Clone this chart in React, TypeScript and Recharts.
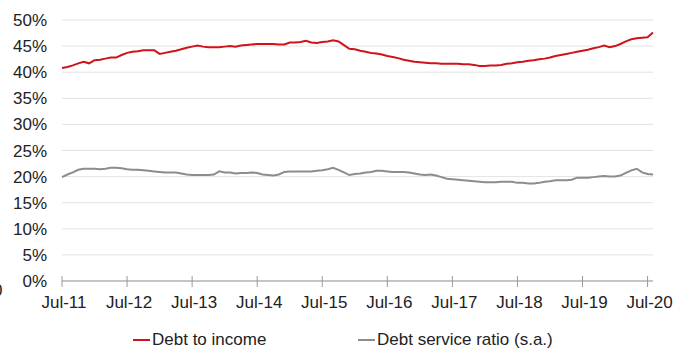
import React from 'react';
import { LineChart, Line, XAxis, YAxis, CartesianGrid } from 'recharts';

// monthly, Jul-11 .. Aug-20
const debtToIncome = [
  40.8, 41.0, 41.3, 41.7, 42.0, 41.7, 42.3, 42.4, 42.6, 42.8, 42.8, 43.3,
  43.7, 43.9, 44.0, 44.2, 44.2, 44.2, 43.5, 43.7, 43.9, 44.1, 44.4, 44.7,
  44.9, 45.1, 44.9, 44.8, 44.8, 44.8, 44.9, 45.0, 44.9, 45.1, 45.2, 45.3,
  45.4, 45.4, 45.4, 45.4, 45.3, 45.3, 45.7, 45.7, 45.8, 46.0, 45.7, 45.6,
  45.8, 45.9, 46.1, 45.9, 45.2, 44.5, 44.4, 44.1, 43.9, 43.7, 43.6, 43.4,
  43.1, 42.9, 42.7, 42.4, 42.2, 42.0, 41.9, 41.8, 41.7, 41.7, 41.6, 41.6,
  41.6, 41.6, 41.5, 41.5, 41.4, 41.2, 41.2, 41.3, 41.3, 41.4, 41.6, 41.7,
  41.9, 42.0, 42.2, 42.3, 42.5, 42.6, 42.8, 43.1, 43.3, 43.5, 43.7, 43.9,
  44.1, 44.3, 44.6, 44.8, 45.1, 44.8, 45.0, 45.4, 45.9, 46.3, 46.5, 46.6,
  46.7, 47.6,
];

const debtServiceRatio = [
  19.9, 20.4, 20.8, 21.3, 21.5, 21.5, 21.5, 21.4, 21.5, 21.7, 21.7, 21.6,
  21.4, 21.3, 21.3, 21.2, 21.1, 21.0, 20.9, 20.8, 20.8, 20.8, 20.6, 20.4,
  20.3, 20.3, 20.3, 20.3, 20.4, 21.0, 20.8, 20.8, 20.6, 20.7, 20.7, 20.8,
  20.7, 20.4, 20.3, 20.2, 20.4, 20.9, 21.0, 21.0, 21.0, 21.0, 21.0, 21.1,
  21.2, 21.4, 21.7, 21.3, 20.8, 20.3, 20.5, 20.6, 20.8, 20.9, 21.1, 21.1,
  21.0, 20.9, 20.9, 20.9, 20.8, 20.6, 20.4, 20.3, 20.4, 20.2, 19.9, 19.6,
  19.5, 19.4, 19.3, 19.2, 19.1, 19.0, 18.9, 18.9, 18.9, 19.0, 19.0, 19.0,
  18.8, 18.8, 18.7, 18.7, 18.8, 19.0, 19.1, 19.3, 19.3, 19.3, 19.4, 19.8,
  19.8, 19.8, 19.9, 20.0, 20.1, 20.0, 20.0, 20.2, 20.7, 21.2, 21.5, 20.8,
  20.5, 20.4,
];

const xTickLabels = ['Jul-11', 'Jul-12', 'Jul-13', 'Jul-14', 'Jul-15', 'Jul-16', 'Jul-17', 'Jul-18', 'Jul-19', 'Jul-20'];
const xTicks = xTickLabels.map((_, k) => k * 12);
const yTicks = [0, 5, 10, 15, 20, 25, 30, 35, 40, 45, 50];

const data = debtToIncome.map((v, i) => ({ i, dti: v, dsr: debtServiceRatio[i] }));

const FONT = '"Liberation Sans", Arial, sans-serif';
const RED = '#D0121B';
const GREY = '#8C8C8C';
const TEXT = '#222';

const series = [
  { key: 'dti', name: 'Debt to income', color: RED, left: 133 },
  { key: 'dsr', name: 'Debt service ratio (s.a.)', color: GREY, left: 358 },
];

const XTick = (props: any) => {
  const { x, y, payload } = props;
  return (
    <g>
      <line x1={x} x2={x} y1={y - 5} y2={y + 6} stroke="#999" strokeWidth={1} />
      <text x={x + 2} y={y + 21} dy="0.35em" textAnchor="middle" fontSize={17} fontFamily={FONT} fill={TEXT}>
        {xTickLabels[payload.value / 12]}
      </text>
    </g>
  );
};

export default function App() {
  return (
    <div style={{ position: 'absolute', left: 0, top: 0, width: 683, height: 350, background: '#fff', overflow: 'hidden' }}>
      <LineChart width={683} height={350} data={data} margin={{ top: 20, right: 30, bottom: 0, left: 0 }}>
        <CartesianGrid vertical={false} stroke="#e3e3e3" strokeWidth={1} />
        <XAxis
          dataKey="i"
          type="number"
          domain={[0, 109]}
          ticks={xTicks}
          interval={0}
          height={69}
          tickSize={0}
          tickMargin={0}
          tickLine={false}
          axisLine={{ stroke: '#999' }}
          tick={<XTick />}
        />
        <YAxis
          type="number"
          domain={[0, 50]}
          ticks={yTicks}
          interval={0}
          width={62}
          axisLine={false}
          tickLine={false}
          tickSize={0}
          tickMargin={15}
          tickFormatter={(v: number) => `${v}%`}
          tick={{ fontSize: 17, fontFamily: FONT, fill: TEXT }}
        />
        {series.map((s) => (
          <Line key={s.key} type="linear" dataKey={s.key} name={s.name} stroke={s.color} strokeWidth={2} dot={false} isAnimationActive={false} />
        ))}
      </LineChart>
      {series.map((s) => (
        <div key={s.key} style={{ position: 'absolute', left: s.left, top: 330, height: 20, display: 'flex', alignItems: 'center', fontFamily: FONT, fontSize: 17, color: TEXT, whiteSpace: 'nowrap' }}>
          <span style={{ display: 'inline-block', width: 17, height: 2, background: s.color, marginRight: 2 }} />
          {s.name}
        </div>
      ))}
      <span style={{ position: 'absolute', left: -7, top: 281, fontFamily: FONT, fontSize: 17, color: TEXT }}>0</span>
    </div>
  );
}
